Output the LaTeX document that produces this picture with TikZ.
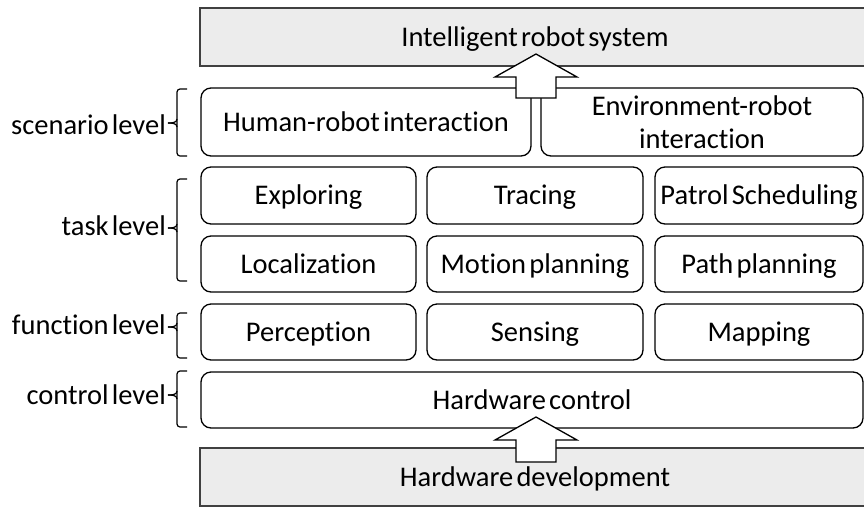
\documentclass[tikz,border=0pt]{standalone}
\usepackage{fontspec}
\setmainfont{Carlito}[WordSpace=0.5,Ligatures=NoCommon]
\newcommand\mylevelbrace[3]{%
  \draw[bracestyle] (187,#1) -- (177,#1) -- (177,#3) -- (187,#3);
  \draw[bracestyle,sharp corners] (177,#2-4) to[out=270,in=0] (168,#2);
  \draw[bracestyle,sharp corners] (177,#2+4) to[out=90,in=0] (168,#2);}
\begin{document}
\begin{tikzpicture}[x=1pt,y=-1pt,
  txt/.style={font=\fontsize{28.5}{33}\selectfont},
  one/.style={text height=20pt,text depth=2pt},
  box/.style={txt,draw=black,line width=1.3pt,rounded corners=10pt,fill=white,inner sep=0pt,outer sep=0pt,align=center},
  graybox/.style={txt,one,draw=black!75,line width=1.8pt,fill=gray!15,inner sep=0pt,outer sep=0pt},
  lbl/.style={txt,one,anchor=east,inner sep=0pt},
  bracestyle/.style={draw=black,line width=1.2pt,rounded corners=3pt},
  blockarrow/.style={draw=black,line width=1.3pt,fill=white,line join=miter}]
\useasboundingbox (0,0) rectangle (864,507);
% top and bottom gray boxes
\node[graybox,minimum width=670pt,minimum height=58pt] (sys) at (535,37) {Intelligent robot system};
\node[graybox,minimum width=670pt,minimum height=58pt] (hwd) at (535,477) {Hardware development};
% scenario level
\node[box,one,minimum width=330pt,minimum height=68pt] (hri) at (366,122) {Human-robot interaction};
\node[box,minimum width=322pt,minimum height=68pt] (eri) at (702,122) {Environment-robot\\interaction};
% task level
\node[box,one,minimum width=215pt,minimum height=57pt] (exp) at (308.5,195.5) {Exploring};
\node[box,one,minimum width=216pt,minimum height=57pt] (tra) at (535,195.5) {Tracing};
\node[box,one,minimum width=208pt,minimum height=57pt] (pat) at (759,195.5) {Patrol Scheduling};
\node[box,one,minimum width=215pt,minimum height=56pt] (loc) at (308.5,264) {Localization};
\node[box,one,minimum width=216pt,minimum height=56pt] (mot) at (535,264) {Motion planning};
\node[box,one,minimum width=208pt,minimum height=56pt] (pth) at (759,264) {Path planning};
% function level
\node[box,one,minimum width=215pt,minimum height=56pt] (per) at (308.5,332) {Perception};
\node[box,one,minimum width=216pt,minimum height=56pt] (sen) at (535,332) {Sensing};
\node[box,one,minimum width=208pt,minimum height=56pt] (map) at (759,332) {Mapping};
% control level
\node[box,one,minimum width=662pt,minimum height=56pt] (hwc) at (532,400) {Hardware control};
% braces and labels
\mylevelbrace{89}{123}{156}
\mylevelbrace{179}{228}{281}
\mylevelbrace{313}{327}{358}
\mylevelbrace{371}{395}{427}
\node[lbl] (lsc) at (166,125) {scenario level};
\node[lbl] (lta) at (166,226) {task level};
\node[lbl] (lfu) at (166,325) {function level};
\node[lbl] (lco) at (166,395) {control level};
% block arrows
\coordinate (a1) at (536,98);
\coordinate (a2) at (536,462);
\draw[blockarrow] (a1) ++(-20,0) -- ++(0,-21) -- ++(-21,0) -- ++(41,-23) -- ++(41,23) -- ++(-21,0) -- ++(0,21) -- cycle;
\draw[blockarrow] (a2) ++(-20,0) -- ++(0,-22) -- ++(-21,0) -- ++(41,-23) -- ++(41,23) -- ++(-21,0) -- ++(0,22) -- cycle;
\end{tikzpicture}
\end{document}
